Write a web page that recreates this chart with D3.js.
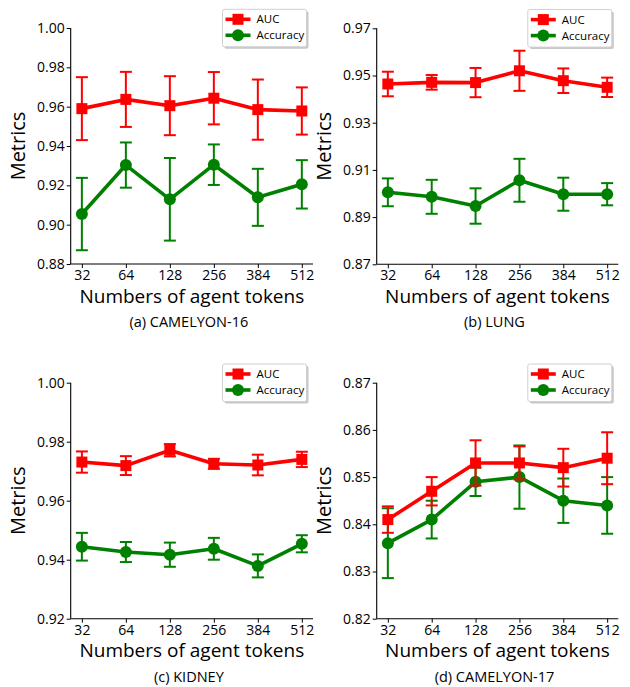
<!DOCTYPE html>
<html><head><meta charset="utf-8">
<script src="https://cdn.jsdelivr.net/npm/d3@7"></script>
<style>body{margin:0;background:#fff}svg{display:block}text{font-family:"Open Sans",sans-serif;fill:#000}</style>
</head><body>
<svg id="c" width="630" height="687"></svg>
<script>
const tokens = ["32","64","128","256","384","512"];

const aucA = [0.959,0.9637,0.9605,0.9643,0.9585,0.9578];
const aucErrA = [0.016,0.014,0.015,0.0133,0.0153,0.012];
const accA = [0.9054,0.9303,0.9129,0.9305,0.9139,0.9205];
const accErrA = [0.0184,0.0115,0.021,0.0103,0.0145,0.0123];

const aucB = [0.9464,0.9471,0.947,0.952,0.9478,0.945];
const aucErrB = [0.0052,0.0031,0.0062,0.0085,0.0052,0.0041];
const accB = [0.9005,0.8986,0.8947,0.9056,0.8997,0.8997];
const accErrB = [0.0059,0.0072,0.0075,0.0091,0.007,0.0047];

const aucC = [0.9731,0.9719,0.9771,0.9725,0.9721,0.974];
const aucErrC = [0.0036,0.0032,0.0021,0.0017,0.0035,0.0026];
const accC = [0.9444,0.9426,0.9417,0.9437,0.9379,0.9454];
const accErrC = [0.0047,0.0034,0.0041,0.0037,0.0039,0.0029];

const aucD = [0.841,0.847,0.853,0.853,0.852,0.854];
const aucErrD = [0.0028,0.003,0.0048,0.0035,0.004,0.0055];
const accD = [0.836,0.841,0.849,0.850,0.845,0.844];
const accErrD = [0.0074,0.004,0.003,0.0067,0.0047,0.006];

const yTicksA = [0.88,0.90,0.92,0.94,0.96,0.98,1.00];
const yTicksB = [0.87,0.89,0.91,0.93,0.95,0.97];
const yTicksC = [0.92,0.94,0.96,0.98,1.00];
const yTicksD = [0.82,0.83,0.84,0.85,0.86,0.87];

const captions = ["(a) CAMELYON-16","(b) LUNG","(c) KIDNEY","(d) CAMELYON-17"];
const xTitle = "Numbers of agent tokens";
const yTitle = "Metrics";
const seriesNames = ["AUC","Accuracy"];

const panels = [
  {auc:aucA,aucErr:aucErrA,acc:accA,accErr:accErrA,ticks:yTicksA,x0:70.7,x1:313,y0:28,y1:264},
  {auc:aucB,aucErr:aucErrB,acc:accB,accErr:accErrB,ticks:yTicksB,x0:376.7,x1:618.3,y0:28.3,y1:264.3},
  {auc:aucC,aucErr:aucErrC,acc:accC,accErr:accErrC,ticks:yTicksC,x0:70.7,x1:313,y0:382.7,y1:618.7},
  {auc:aucD,aucErr:aucErrD,acc:accD,accErr:accErrD,ticks:yTicksD,x0:376.7,x1:618.3,y0:382.7,y1:618.7}
];

const svg = d3.select("#c");
const RED = "#ff0000", GREEN = "#008000";

panels.forEach((p,i)=>{
  const g = svg.append("g");
  const x = d3.scalePoint().domain(tokens).range([p.x0,p.x1]).padding(0.254);
  const y = d3.scaleLinear().domain([p.ticks[0],p.ticks[p.ticks.length-1]]).range([p.y1,p.y0]);
  const ya = g.append("g").attr("transform",`translate(${p.x0},0)`)
    .call(d3.axisLeft(y).tickValues(p.ticks).tickFormat(d3.format(".2f")).tickSize(4).tickPadding(2));
  const xa = g.append("g").attr("transform",`translate(0,${p.y1})`)
    .call(d3.axisBottom(x).tickSize(4).tickPadding(2));
  [ya,xa].forEach(a=>{
    a.select(".domain").attr("stroke","#000").attr("stroke-width",1.1).attr("d", a===ya ? `M0,${p.y1}V${p.y0}` : `M${p.x0},0H${p.x1}`);
    a.selectAll(".tick line").attr("stroke","#000").attr("stroke-width",1);
    a.selectAll("text").style("font-size","14px").style("font-family","'Open Sans',sans-serif").attr("fill","#000");
  });
  g.append("text").attr("x",(p.x0+p.x1)/2).attr("y",p.y1+38.5).attr("text-anchor","middle")
    .style("font-size","19px").text(xTitle);
  g.append("text").attr("transform",`translate(${p.x0-46},${(p.y0+p.y1)/2}) rotate(-90)`).attr("text-anchor","middle")
    .style("font-size","20px").text(yTitle);
  g.append("text").attr("x",(p.x0+p.x1)/2-3).attr("y",p.y1+63).attr("text-anchor","middle")
    .style("font-size","14.5px").text(captions[i]);

  const drawSeries = (vals, errs, color, marker)=>{
    const s = g.append("g");
    tokens.forEach((t,j)=>{
      const cx = x(t), top = y(vals[j]+errs[j]), bot = y(vals[j]-errs[j]);
      s.append("line").attr("x1",cx).attr("x2",cx).attr("y1",top).attr("y2",bot).attr("stroke",color).attr("stroke-width",2);
      [top,bot].forEach(yy=>s.append("line").attr("x1",cx-6).attr("x2",cx+6).attr("y1",yy).attr("y2",yy).attr("stroke",color).attr("stroke-width",2));
    });
    s.append("path").datum(vals).attr("fill","none").attr("stroke",color).attr("stroke-width",3.6).attr("stroke-linejoin","round")
      .attr("d",d3.line().x((d,j)=>x(tokens[j])).y(d=>y(d)));
    tokens.forEach((t,j)=>{
      if(marker==="square") s.append("rect").attr("x",x(t)-5.5).attr("y",y(vals[j])-5.5).attr("width",11).attr("height",11).attr("fill",color);
      else s.append("circle").attr("cx",x(t)).attr("cy",y(vals[j])).attr("r",6).attr("fill",color);
    });
  };
  drawSeries(p.acc,p.accErr,GREEN,"circle");
  drawSeries(p.auc,p.aucErr,RED,"square");

  const lx = p.x1 - 90.5, ly = p.y0 - 18.7;
  const lg = g.append("g").attr("transform",`translate(${lx},${ly})`);
  lg.append("rect").attr("x",2).attr("y",2).attr("width",84).attr("height",37.5).attr("rx",2).attr("fill","#c8c8c8");
  lg.append("rect").attr("x",0).attr("y",0).attr("width",84).attr("height",37.5).attr("rx",2).attr("fill","#fff").attr("stroke","#d0d0d0").attr("stroke-width",1);
  [[RED,"square"],[GREEN,"circle"]].forEach(([c,m],k)=>{
    const yy = 10 + k*16;
    lg.append("line").attr("x1",3).attr("x2",28).attr("y1",yy).attr("y2",yy).attr("stroke",c).attr("stroke-width",3.6);
    if(m==="square") lg.append("rect").attr("x",15.5-5.5).attr("y",yy-5.5).attr("width",11).attr("height",11).attr("fill",c);
    else lg.append("circle").attr("cx",15.5).attr("cy",yy).attr("r",6).attr("fill",c);
    lg.append("text").attr("x",34).attr("y",yy+4).style("font-size","11.5px").text(seriesNames[k]);
  });
});
</script>
</body></html>
